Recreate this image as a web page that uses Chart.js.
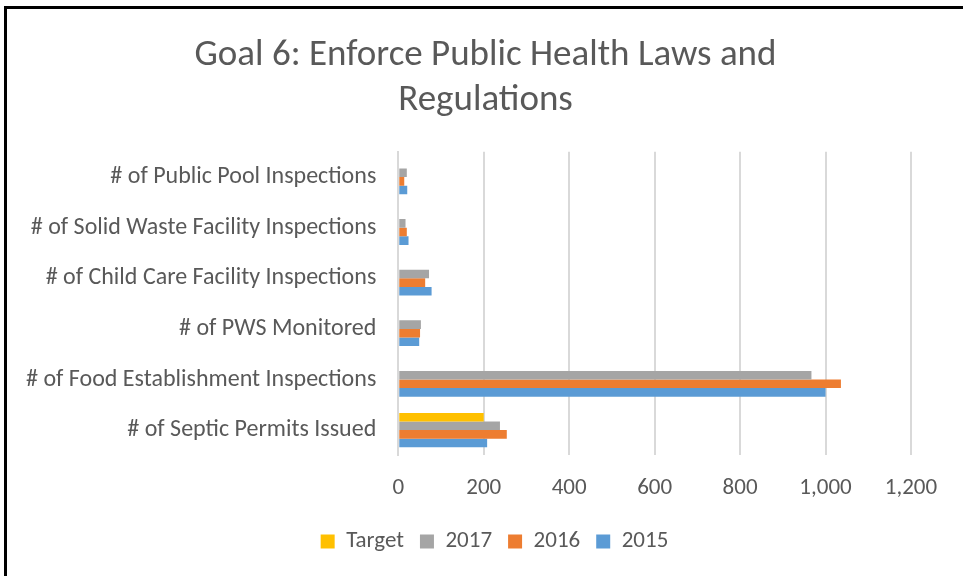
<!DOCTYPE html>
<html>
<head>
<meta charset="utf-8">
<script src="https://cdn.jsdelivr.net/npm/chart.js@4"></script>
<style>
    html, body { margin: 0; padding: 0; background: #fff; overflow: hidden; }
    #wrap { position: relative; width: 963px; height: 576px; }
    #frame {
        position: absolute; left: 4px; top: 6px; width: 1000px; height: 700px;
        border: 3px solid #000; pointer-events: none;
    }
    canvas { position: absolute; left: 0; top: 0; }
</style>
</head>
<body>
<div id="wrap">
    <canvas id="goal-chart" width="963" height="576"></canvas>
    <div id="frame"></div>
</div>
<script>
// categories, top to bottom as drawn
const categories = [
    "# of Public Pool Inspections",
    "# of Solid Waste Facility Inspections",
    "# of Child Care Facility Inspections",
    "# of PWS Monitored",
    "# of Food Establishment Inspections",
    "# of Septic Permits Issued",
];

const target = [null, null, null, null, null, 200];
const values2017 = [20, 17, 72, 53, 967, 238];
const values2016 = [14, 20, 63, 51, 1036, 254];
const values2015 = [21, 24, 78, 49, 1000, 208];

const xTicks = [0, 200, 400, 600, 800, 1000, 1200];

const textColor = "#595959";
const fontFamily = "Carlito, 'Open Sans', sans-serif";

// title and legend sit a bit right of the centre of the chart box
const shiftBoxes = {
    id: "shiftBoxes",
    afterLayout(chart) {
        chart.titleBlock.left += 28;
        chart.titleBlock.right += 28;
        chart.legend.left += 37;
        chart.legend.right += 37;
    },
};

let chartCanvas = document.getElementById("goal-chart");

new Chart(chartCanvas, {
    type: "bar",
    data: {
        labels: categories,
        datasets: [
            { label: "Target", data: target, backgroundColor: "#FFC000" },
            { label: "2017", data: values2017, backgroundColor: "#A5A5A5" },
            { label: "2016", data: values2016, backgroundColor: "#ED7D31" },
            { label: "2015", data: values2015, backgroundColor: "#5B9BD5" },
        ],
    },
    options: {
        indexAxis: "y",
        responsive: false,
        animation: false,
        categoryPercentage: 0.68,
        barPercentage: 1,
        layout: {
            padding: { top: 0, left: 4, right: 52, bottom: 13 },
        },
        scales: {
            x: {
                min: 0,
                max: 1200,
                afterBuildTicks: (axis) => {
                    axis.ticks = xTicks.map((v) => ({ value: v }));
                },
                // pull the legend up without moving the plot
                afterFit: (axis) => {
                    axis.height -= 7;
                },
                grid: { color: "#D9D9D9", lineWidth: 2, drawTicks: false },
                border: { display: false },
                ticks: {
                    color: textColor,
                    padding: 19,
                    font: { family: fontFamily, size: 23 },
                    callback: (v) => v.toLocaleString("en-US"),
                },
            },
            y: {
                grid: { display: false, drawTicks: false },
                border: { display: true, color: "#D9D9D9", width: 2 },
                ticks: {
                    color: textColor,
                    padding: 22,
                    font: { family: fontFamily, size: 24 },
                },
            },
        },
        plugins: {
            title: {
                display: true,
                text: ["Goal 6: Enforce Public Health Laws and", "Regulations"],
                color: textColor,
                font: { family: fontFamily, size: 37, weight: "normal" },
                lineHeight: 1.22,
                padding: { top: 34, bottom: 29 },
            },
            legend: {
                position: "bottom",
                labels: {
                    color: textColor,
                    boxWidth: 14,
                    boxHeight: 14,
                    padding: 16,
                    font: { family: fontFamily, size: 23 },
                },
            },
            tooltip: { enabled: false },
        },
    },
    plugins: [shiftBoxes],
});
</script>
</body>
</html>
